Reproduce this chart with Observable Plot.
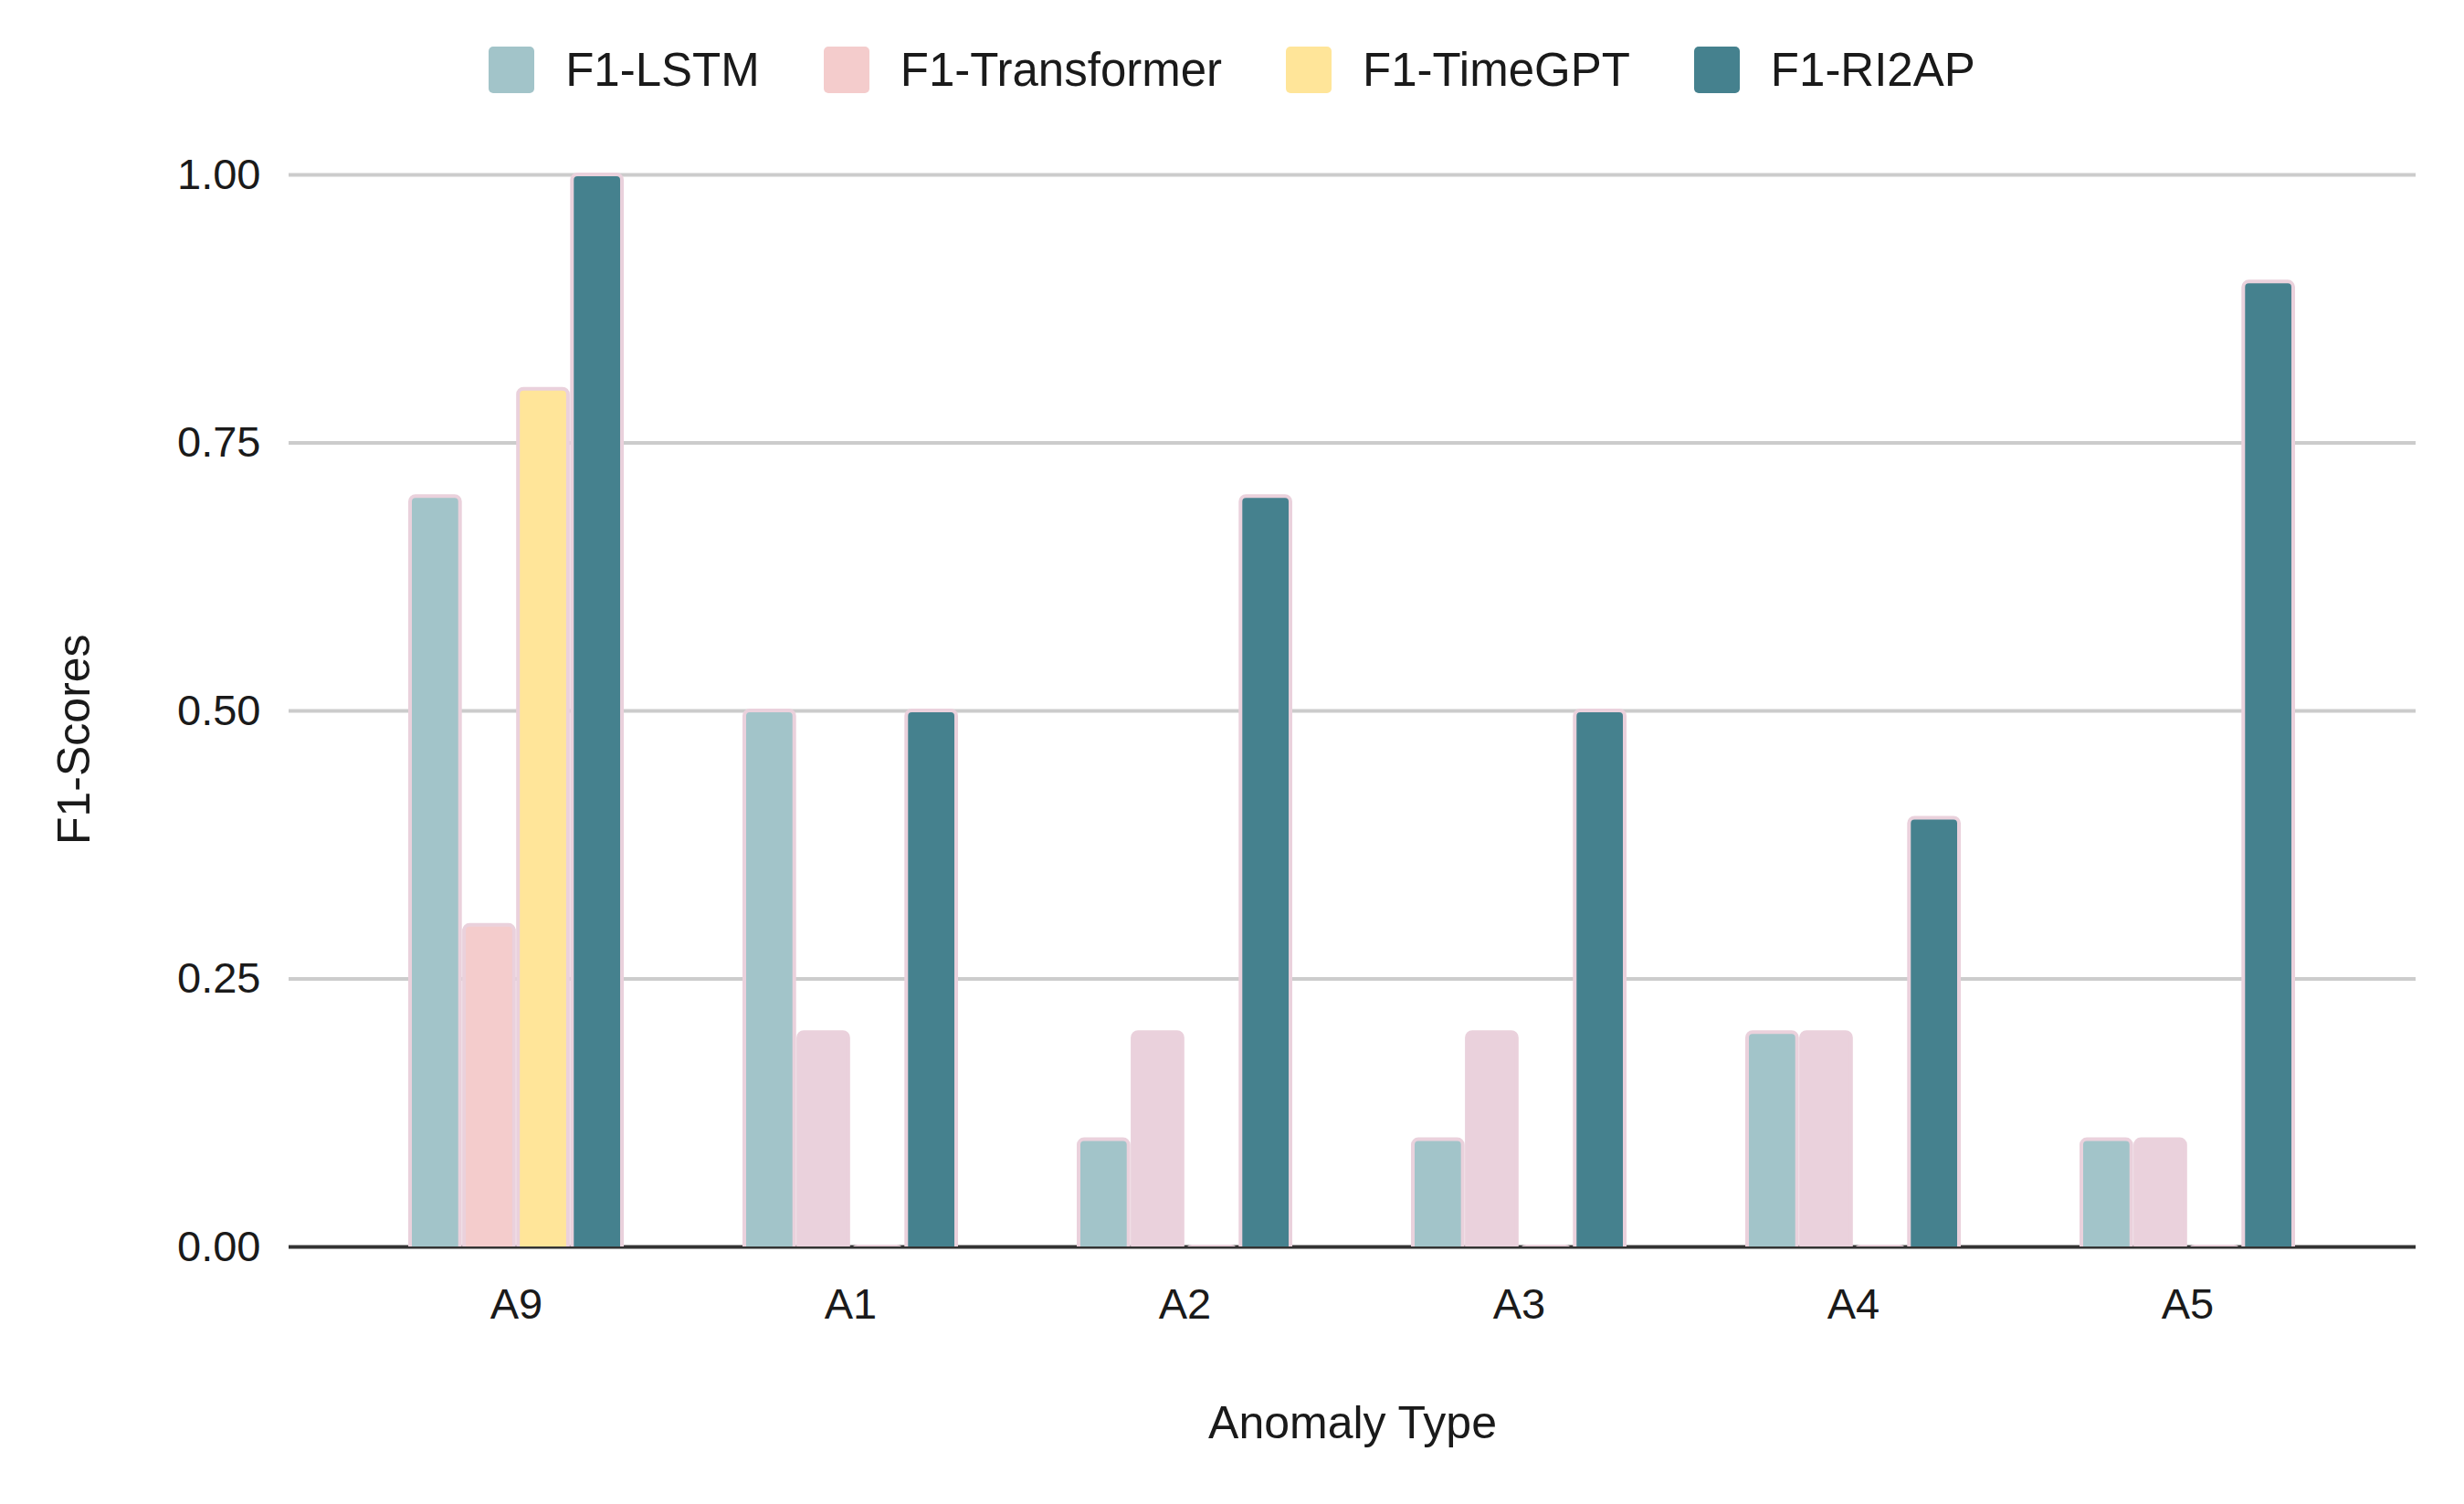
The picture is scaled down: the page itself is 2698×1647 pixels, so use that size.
<!DOCTYPE html>
<html>
<head>
<meta charset="utf-8">
<script src="https://cdn.jsdelivr.net/npm/d3@7"></script>
<script src="https://cdn.jsdelivr.net/npm/@observablehq/plot@0.6"></script>
<style>
  html, body { margin: 0; padding: 0; background: #ffffff; }
  body { width: 2698px; height: 1647px; overflow: hidden; font-family: "Liberation Sans", Arial, sans-serif; color: #1a1a1a; }
  #legend { height: 130px; box-sizing: border-box; padding-top: 51px; display: flex; justify-content: center; align-items: flex-start; }
  .item { display: flex; align-items: center; height: 51px; margin: 0 35px; }
  .sw { width: 50px; height: 51px; border-radius: 5px; margin-right: 34px; }
  .lab { font-size: 51px; line-height: 51px; color: #1a1a1a; white-space: nowrap; }
</style>
</head>
<body>
<div id="legend"></div>
<div id="chart"></div>
<script>
// ---- data ----
const categories = ["A9", "A1", "A2", "A3", "A4", "A5"];
const series = ["F1-LSTM", "F1-Transformer", "F1-TimeGPT", "F1-RI2AP"];
const lstm        = [0.7, 0.5, 0.1, 0.1, 0.2, 0.1];
const transformer = [0.3, 0.2, 0.2, 0.2, 0.2, 0.1];
const timegpt     = [0.8, 0.0, 0.0, 0.0, 0.0, 0.0];
const ri2ap       = [1.0, 0.5, 0.7, 0.5, 0.4, 0.9];
const yTicks = [0, 0.25, 0.5, 0.75, 1];

// ---- styles ----
const colors = ["#a2c4c9", "#f4cccc", "#ffe599", "#45818e"];
const outline = "#ead1dc";
const transformerFill = ["#f4cccc", "#ead1dc", "#ead1dc", "#ead1dc", "#ead1dc", "#ead1dc"];

const valuesBySeries = [lstm, transformer, timegpt, ri2ap];
const rowsFor = (j) => categories.map((c, i) => ({
  cat: c,
  series: series[j],
  value: valuesBySeries[j][i],
  fill: j === 1 ? transformerFill[i] : colors[j]
}));

// ---- legend ----
const legend = document.getElementById("legend");
series.forEach((s, j) => {
  const it = document.createElement("div");
  it.className = "item";
  const sw = document.createElement("div");
  sw.className = "sw";
  sw.style.background = colors[j];
  const lab = document.createElement("div");
  lab.className = "lab";
  lab.textContent = s;
  it.appendChild(sw);
  it.appendChild(lab);
  legend.appendChild(it);
});

// ---- chart ----
const W = 2698, H = 1517;
const ML = 316, MR = 53, MT = 14, MB = 282;
const xPad = 0.355;
const step = (W - ML - MR) / (categories.length - xPad + 2 * xPad);
const bandW = step * (1 - xPad);
const sub = bandW / series.length;   // width of one series slot within a group

const barMarks = series.map((s, j) => Plot.barY(rowsFor(j), {
  x: "cat",
  y1: -0.03,
  y2: "value",
  fill: "fill",
  stroke: outline,
  strokeWidth: 4,
  insetLeft: j * sub + 2,
  insetRight: (series.length - 1 - j) * sub + 2,
  rx: 6,
  clip: true
}));

const chart = Plot.plot({
  width: W,
  height: H,
  marginLeft: ML,
  marginRight: MR,
  marginTop: MT,
  marginBottom: MB,
  style: {
    fontFamily: "Liberation Sans, Arial, sans-serif",
    fontSize: "47px",
    color: "#1a1a1a",
    background: "#ffffff",
    overflow: "visible"
  },
  x: { domain: categories, padding: xPad, label: null, tickSize: 0, tickPadding: 45 },
  y: {
    domain: [0, 1.04],
    ticks: yTicks,
    tickFormat: d3.format(".2f"),
    tickSize: 0,
    tickPadding: 31,
    label: null
  },
  marks: [
    Plot.ruleY(yTicks.filter(d => d > 0), { stroke: "#cccccc", strokeWidth: 4 }),
    Plot.ruleY([0], { stroke: "#333333", strokeWidth: 4 }),
    ...barMarks,
    Plot.text(["F1-Scores"], {
      frameAnchor: "left",
      rotate: -90,
      dx: 81 - ML,
      dy: 170,
      fontSize: 50,
      fill: "#1a1a1a"
    }),
    Plot.text(["Anomaly Type"], {
      frameAnchor: "bottom",
      dy: 209,
      fontSize: 50,
      fill: "#1a1a1a"
    })
  ]
});
document.getElementById("chart").appendChild(chart);
</script>
</body>
</html>
